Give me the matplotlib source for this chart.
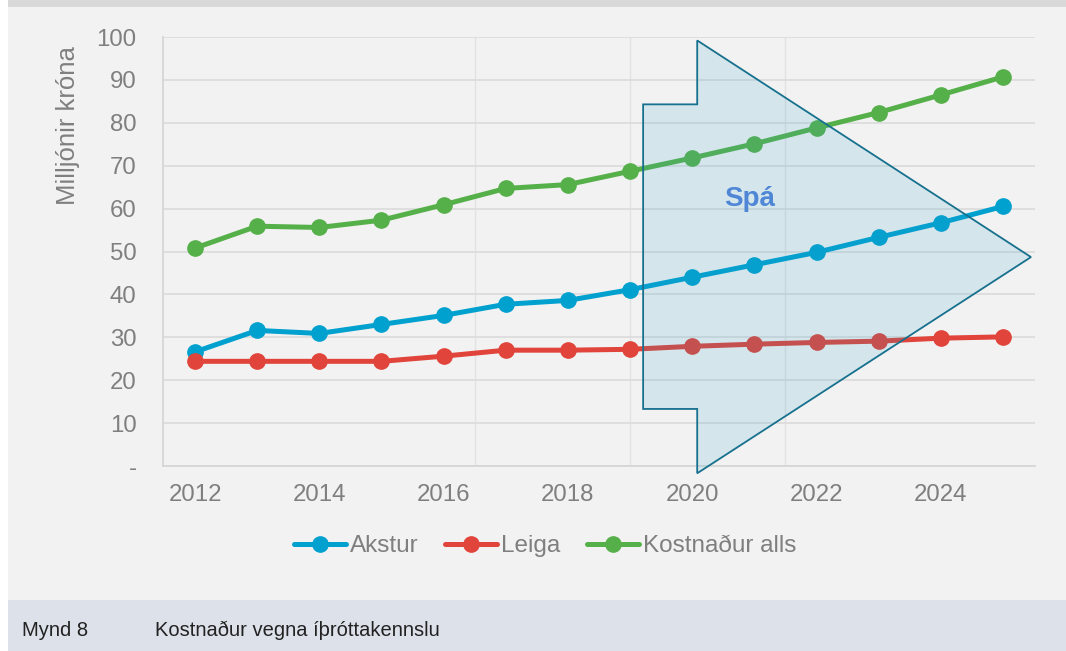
import matplotlib.pyplot as plt
from matplotlib.patches import Polygon, Rectangle
import numpy as np

plt.rcParams['font.family'] = ['Liberation Sans', 'DejaVu Sans']

# data
years = np.arange(2012, 2026)
akstur = [26.6, 31.6, 30.9, 33.0, 35.1, 37.7, 38.6, 41.1, 44.0, 46.9, 49.8, 53.3, 56.7, 60.5]
leiga = [24.4, 24.4, 24.4, 24.4, 25.6, 27.0, 27.0, 27.2, 27.9, 28.4, 28.8, 29.1, 29.8, 30.1]
alls = [50.8, 55.9, 55.6, 57.3, 60.9, 64.7, 65.6, 68.7, 71.8, 75.1, 78.8, 82.4, 86.5, 90.7]
series_names = ["Akstur", "Leiga", "Kostnaður alls"]
y_ticks = [0, 10, 20, 30, 40, 50, 60, 70, 80, 90, 100]
y_ticklabels = ["-"] + [str(v) for v in y_ticks[1:]]
x_ticks = [2012, 2014, 2016, 2018, 2020, 2022, 2024]

# forecast arrow outline (data coords)
arrow_x = [2020.08, 2020.08, 2019.21, 2019.21, 2020.08, 2020.08, 2025.45]
arrow_y = [99.2, 84.3, 84.3, 13.3, 13.3, -1.7, 48.7]

colors = ['#00a0cf', '#e0443a', '#56b04a']
bg = '#f2f2f2'
txt = '#7f7f7f'

fig = plt.figure(figsize=(10.66, 6.51), dpi=100)
fig.patch.set_facecolor('white')
# background panels
fig.patches.append(Rectangle((8/1066, 51/651), 1 - 8/1066, 1 - 51/651, transform=fig.transFigure,
                             facecolor=bg, edgecolor='none', zorder=-10))
fig.patches.append(Rectangle((8/1066, 1 - 7/651), 1 - 8/1066, 7/651, transform=fig.transFigure,
                             facecolor='#d9d9d9', edgecolor='none', zorder=-9))
fig.patches.append(Rectangle((8/1066, 0), 1 - 8/1066, 51/651, transform=fig.transFigure,
                             facecolor='#dde1ea', edgecolor='none', zorder=-9))

ax = fig.add_axes([163/1066, 1 - 466/651, (1035-163)/1066, (466-37)/651])
ax.set_facecolor(bg)

for vals, name, c in zip([akstur, leiga, alls], series_names, colors):
    ax.plot(years, vals, color=c, lw=3.6, marker='o', ms=11, label=name, zorder=3,
            solid_capstyle='round')

poly = Polygon(np.column_stack([arrow_x, arrow_y]), closed=True,
               facecolor=(0.165, 0.635, 0.79, 0.15), edgecolor='#16708e', lw=1.3,
               zorder=4, clip_on=False)
ax.add_patch(poly)
ax.text(2020.93, 62.3, "Spá", color='#4f86d6', fontsize=20, fontweight='bold',
        ha='center', va='center', zorder=5)

ax.set_xlim(2011.485, 2025.515)
ax.set_ylim(0, 100)
ax.set_yticks(y_ticks)
ax.set_yticklabels(y_ticklabels)
ax.set_xticks(x_ticks)
ax.set_xticks([2014, 2016.5, 2019, 2021.5, 2024], minor=True)
ax.grid(axis='y', which='major', color='#dcdcdc', lw=1.3)
ax.grid(axis='x', which='minor', color='#e2e2e2', lw=1.0)
ax.set_axisbelow(True)
ax.tick_params(which='both', length=0)
ax.tick_params(axis='y', pad=19, labelsize=17.3, labelcolor=txt)
ax.tick_params(axis='x', pad=13, labelsize=17.3, labelcolor=txt)
for s in ['top', 'right']:
    ax.spines[s].set_visible(False)
for s in ['left', 'bottom']:
    ax.spines[s].set_color('#d6d6d6')
    ax.spines[s].set_linewidth(1.3)

fig.text(68/1066, 1 - 126/651, "Milljónir króna", rotation=90, color=txt, fontsize=18.5,
         ha='center', va='center')

leg = ax.legend(loc='center', bbox_to_anchor=(545/1066, 1 - 546/651),
                bbox_transform=fig.transFigure, ncol=3, frameon=False, fontsize=17.5,
                handlelength=2.15, handletextpad=0.15, columnspacing=1.1)
for t in leg.get_texts():
    t.set_color(txt)

fig.text(22/1066, 1 - 630/651, "Mynd 8", fontsize=14.5, color='#222222', va='center')
fig.text(155/1066, 1 - 630/651, "Kostnaður vegna íþróttakennslu", fontsize=14.5,
         color='#222222', va='center')

fig.savefig('out.png', dpi=100, facecolor=fig.get_facecolor())
